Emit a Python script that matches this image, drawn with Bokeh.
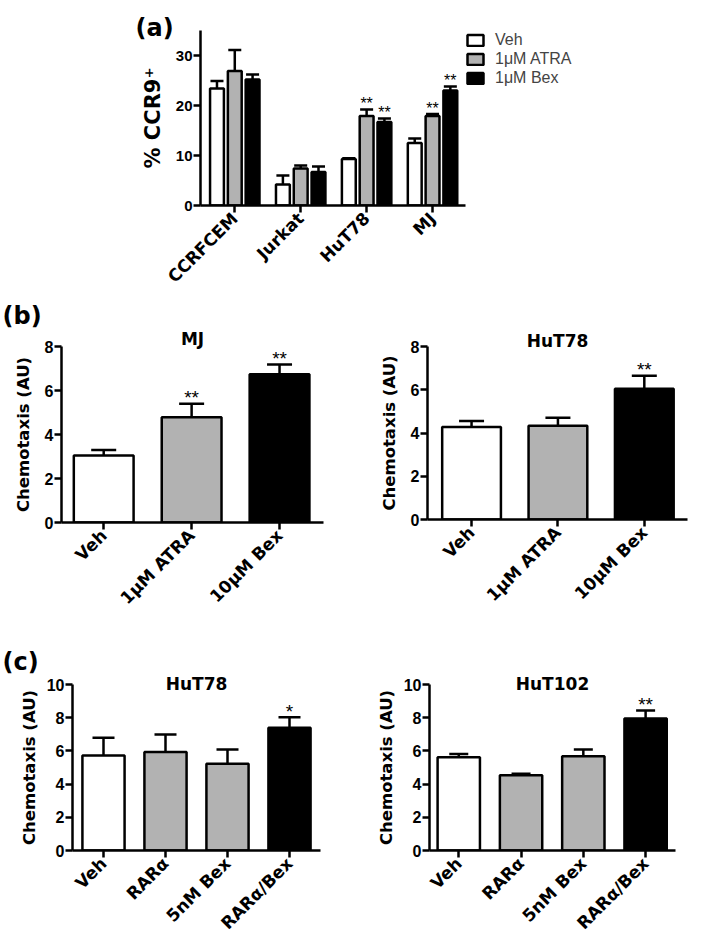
import numpy as np
from bokeh.plotting import figure
from bokeh.models import (ColumnDataSource, Whisker, TeeHead, Title, Legend,
                          LegendItem, FixedTicker, Range1d)
from bokeh.layouts import column, row
from bokeh.embed import file_html
from bokeh.resources import INLINE
from bokeh.core.properties import value

# ---------------- data ----------------
# (a) % CCR9+
a_cells = ["CCRFCEM", "Jurkat", "HuT78", "MJ"]
a_series = ["Veh", "1μM ATRA", "1μM Bex"]
a_veh = [23.4, 4.2, 9.3, 12.5]
a_veh_err = [1.5, 1.8, 0.15, 0.9]
a_atra = [26.9, 7.4, 17.9, 17.9]
a_atra_err = [4.2, 0.6, 1.3, 0.4]
a_bex = [25.2, 6.7, 16.7, 23.0]
a_bex_err = [1.0, 1.1, 0.7, 0.8]
a_veh_sig = ["", "", "", ""]
a_atra_sig = ["", "", "**", "**"]
a_bex_sig = ["", "", "**", "**"]

# (b) chemotaxis
b_treat = ["Veh", "1μM ATRA", "10μM Bex"]
b_mj = [3.05, 4.78, 6.74]
b_mj_err = [0.25, 0.62, 0.44]
b_mj_sig = ["", "**", "**"]
b_hut78 = [4.28, 4.33, 6.05]
b_hut78_err = [0.28, 0.38, 0.60]
b_hut78_sig = ["", "", "**"]

# (c) chemotaxis
c_treat = ["Veh", "RARα", "5nM Bex", "RARα/Bex"]
c_hut78 = [5.72, 5.94, 5.22, 7.39]
c_hut78_err = [1.07, 1.05, 0.86, 0.64]
c_hut78_sig = ["", "", "", "*"]
c_hut102 = [5.62, 4.54, 5.68, 7.95]
c_hut102_err = [0.20, 0.08, 0.40, 0.48]
c_hut102_sig = ["", "", "", "**"]

WHITE, GRAY, BLACK = "#ffffff", "#b2b2b2", "#000000"
NUM_FONT = "Liberation Sans"
TXT_FONT = "DejaVu Sans"


def make_fig(width, height, left, top, fw, fh, xr, yr, yticks, ylabel,
             xlabels, ytick_size, xtick_size, ylabel_size, ylabel_standoff):
    right = width - left - fw
    bottom = height - top - fh
    p = figure(frame_width=fw, frame_height=fh, x_range=Range1d(*xr),
               y_range=Range1d(*yr), title=None, toolbar_location=None,
               output_backend="svg", min_border_left=left,
               min_border_right=right, min_border_top=top,
               min_border_bottom=bottom)
    p.xgrid.visible = False
    p.ygrid.visible = False
    p.outline_line_color = None
    p.background_fill_color = "white"
    p.border_fill_color = "white"
    for ax in (p.xaxis[0], p.yaxis[0]):
        ax.axis_line_width = 2.5
        ax.axis_line_color = "black"
        ax.major_tick_line_width = 2.5
        ax.major_tick_line_color = "black"
        ax.major_tick_out = 7
        ax.major_tick_in = 0
        ax.minor_tick_line_color = None
        ax.major_label_text_font_style = "bold"
        ax.major_label_text_color = "black"
        ax.axis_label_text_font = TXT_FONT
        ax.axis_label_text_font_style = "bold"
        ax.axis_label_text_color = "black"
    p.yaxis.ticker = FixedTicker(ticks=yticks)
    p.yaxis.major_label_text_font = NUM_FONT
    p.yaxis.major_label_text_font_size = ytick_size
    p.yaxis.major_label_standoff = 1
    p.yaxis.axis_label = ylabel
    p.yaxis.axis_label_text_font_size = ylabel_size
    p.yaxis.axis_label_standoff = ylabel_standoff
    p.xaxis.ticker = FixedTicker(ticks=list(range(len(xlabels))))
    p.xaxis.major_label_overrides = {i: lab for i, lab in enumerate(xlabels)}
    p.xaxis.major_label_orientation = np.pi / 4
    p.xaxis.major_label_text_font = TXT_FONT
    p.xaxis.major_label_text_font_size = xtick_size
    p.xaxis.major_label_standoff = 3
    return p


def add_bars(p, x, means, errs, sigs, colors, width, cap, star_size):
    tops = [m + e for m, e in zip(means, errs)]
    src = ColumnDataSource(dict(x=x, m=means, up=tops, sig=sigs, c=colors))
    r = p.vbar(x="x", top="m", bottom=0, width=width, source=src,
               fill_color="c", line_color="black", line_width=2.5)
    p.add_layout(Whisker(base="x", lower="m", upper="up", source=src,
                         dimension="height", line_width=2.5,
                         line_color="black",
                         upper_head=TeeHead(size=cap, line_width=2.5,
                                            line_color="black"),
                         lower_head=None))
    p.text(x="x", y="up", text="sig", source=src, text_align="center",
           text_baseline="alphabetic", y_offset=-6,
           text_font=value(NUM_FONT), text_font_size=star_size,
           text_color="black")
    return r


def add_title(p, text, size, align, offset, standoff):
    p.add_layout(Title(text=text, align=align, offset=offset,
                       standoff=standoff, text_font=TXT_FONT,
                       text_font_size=size, text_font_style="bold",
                       text_color="black"), "above")


# ---------------- panel (a) ----------------
pa = make_fig(693, 300, 200, 30, 265, 175, (-0.52, 3.5), (0, 35),
              [0, 10, 20, 30], "% CCR9⁺", a_cells, "15px", "17px", "21px", 8)
idx = np.arange(len(a_cells))
renderers = []
for k, (vals, errs, sigs, col) in enumerate([
        (a_veh, a_veh_err, a_veh_sig, WHITE),
        (a_atra, a_atra_err, a_atra_sig, GRAY),
        (a_bex, a_bex_err, a_bex_sig, BLACK)]):
    xs = list(idx + (k - 1) * 0.27)
    renderers.append(add_bars(pa, xs, vals, errs, sigs, [col] * len(vals),
                              0.21, 13, "16px"))
legend = Legend(items=[LegendItem(label=s, renderers=[r])
                       for s, r in zip(a_series, renderers)],
                location="top_left", margin=0, padding=3, spacing=0,
                glyph_width=20, glyph_height=14, label_height=19,
                label_standoff=10, border_line_color=None,
                label_text_font=NUM_FONT, label_text_font_size="16px",
                background_fill_alpha=0)
pa.add_layout(legend, "right")
add_title(pa, "(a)", "24px", "left", -65, -22)

# ---------------- panel (b) ----------------
pbl = make_fig(350, 336, 61, 43, 262, 176, (-0.48, 2.5), (0, 8),
               [0, 2, 4, 6, 8], "Chemotaxis (AU)", b_treat, "16px", "17px",
               "16.5px", 9)
add_bars(pbl, list(range(3)), b_mj, b_mj_err, b_mj_sig,
         [WHITE, GRAY, BLACK], 0.68, 25, "19px")
add_title(pbl, "MJ", "17px", "center", 0, -4)
add_title(pbl, "(b)", "24px", "left", -59, -2)

pbr = make_fig(347, 336, 77, 46, 260, 173, (-0.51, 2.5), (0, 8),
               [0, 2, 4, 6, 8], "Chemotaxis (AU)", b_treat, "16px", "17px",
               "16.5px", 9)
add_bars(pbr, list(range(3)), b_hut78, b_hut78_err, b_hut78_sig,
         [WHITE, GRAY, BLACK], 0.68, 25, "19px")
add_title(pbr, "HuT78", "17px", "center", 0, -9)

# ---------------- panel (c) ----------------
pcl = make_fig(350, 303, 72, 45, 248, 166, (-0.5, 3.5), (0, 10),
               [0, 2, 4, 6, 8, 10], "Chemotaxis (AU)", c_treat, "16px",
               "17px", "16.5px", 5)
add_bars(pcl, list(range(4)), c_hut78, c_hut78_err, c_hut78_sig,
         [WHITE, GRAY, GRAY, BLACK], 0.68, 22, "19px")
add_title(pcl, "HuT78", "17px", "center", 0, -19)
add_title(pcl, "(c)", "24px", "left", -70, 12)

pcr = make_fig(339, 303, 79, 45, 246, 166, (-0.47, 3.48), (0, 10),
               [0, 2, 4, 6, 8, 10], "Chemotaxis (AU)", c_treat, "16px",
               "17px", "16.5px", 5)
add_bars(pcr, list(range(4)), c_hut102, c_hut102_err, c_hut102_sig,
         [WHITE, GRAY, GRAY, BLACK], 0.68, 19, "19px")
add_title(pcr, "HuT102", "17px", "center", 0, -19)

layout = column(pa, row(pbl, pbr), row(pcl, pcr))
open("out.html", "w").write(file_html(layout, INLINE))
